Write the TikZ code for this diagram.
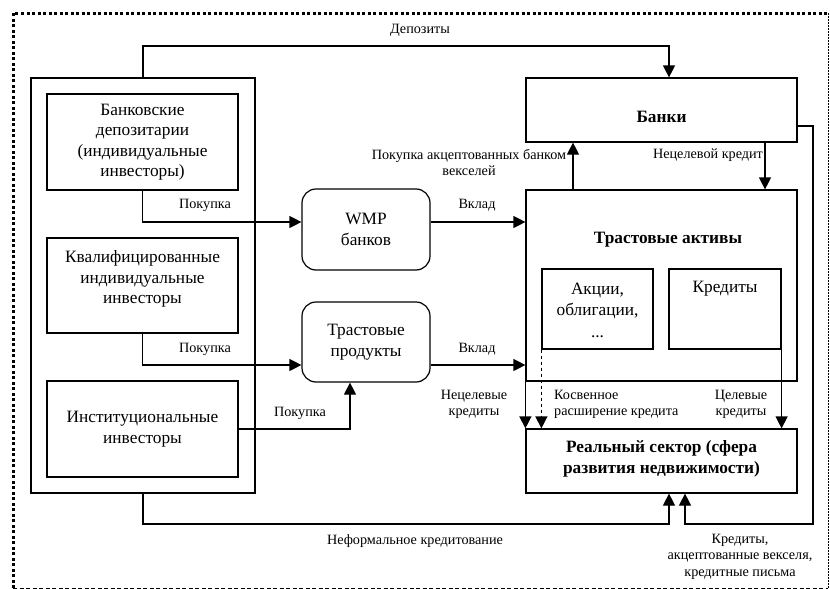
\documentclass[tikz,border=0pt]{standalone}
\usepackage{fontspec}
\setmainfont{Liberation Serif}
\usetikzlibrary{arrows.meta,calc}
\begin{document}
\begin{tikzpicture}[x=1pt,y=-1pt,
  box/.style={draw,line width=1.2pt,align=center,inner sep=0pt,font=\fontsize{17.3}{20.5}\selectfont},
  rbox/.style={box,rounded corners=14pt},
  btxt/.style={align=center,inner sep=0pt,font=\fontsize{17.3}{21}\selectfont\bfseries},
  ptxt/.style={align=center,inner sep=0pt,font=\fontsize{17.3}{21.5}\selectfont},
  lbl/.style={align=center,inner sep=0pt,font=\fontsize{14.2}{16.5}\selectfont},
  conn/.style={line width=1.2pt},
  arr/.style={conn,-{Triangle[length=12pt,width=12pt]}},
]
\useasboundingbox (0,0) rectangle (830,589);
% frame
\draw[line width=3pt,dash pattern=on 3pt off 2.5pt] (13,588) -- (13,13) -- (828,13);
\draw[line width=1pt,dash pattern=on 1.5pt off 1.5pt] (828,13) -- (828,588);
\draw[line width=1pt,dash pattern=on 4pt off 2.5pt] (13,588) -- (828,588);

% investors container
\node[box,minimum width=224,minimum height=415] (inv) at (143,285.5) {};
\node[box,minimum width=191,minimum height=96] (b1) at (142.5,142) {Банковские\\депозитарии\\(индивидуальные\\инвесторы)};
\node[box,minimum width=191,minimum height=95,text depth=17pt] (b2) at (142.5,285.5) {Квалифицированные\\индивидуальные\\инвесторы};
\node[box,minimum width=191,minimum height=96] (b3) at (142.5,429) {Институциональные\\инвесторы};

\node[rbox,minimum width=128,minimum height=81] (wmp) at (366,229.5) {WMP\\банков};
\node[rbox,minimum width=128,minimum height=80] (tp) at (366,342) {Трастовые\\продукты};

\node[box,minimum width=271,minimum height=64] (banks) at (661.5,110) {};
\node[btxt] (bankst) at (661.5,117) {Банки};
\node[box,minimum width=271,minimum height=191] (ta) at (661.5,285.5) {};
\node[btxt] (tat) at (668,240) {Трастовые активы};
\node[box,minimum width=111,minimum height=80] (akc) at (597.5,309) {};
\node[ptxt] (akct) at (597.5,310) {Акции,\\облигации,\\...};
\node[box,minimum width=112,minimum height=80] (kred) at (725,309) {};
\node[ptxt] (kredt) at (725,289) {Кредиты};
\node[box,minimum width=271,minimum height=64] (real) at (661.5,461) {};
\node[btxt] (realt) at (661.5,458.5) {Реальный сектор (сфера\\развития недвижимости)};

% connectors
\coordinate (dep) at (669,46);
\draw[arr] (inv.north) |- (dep) -- (dep |- banks.north);
\node[lbl] (depl) at (420,30) {Депозиты};

\draw[arr] (b1.south) |- ([yshift=7.5pt]wmp.west);
\node[lbl] (p1) at (205,205) {Покупка};
\draw[arr] ([yshift=7.5pt]wmp.east) -- ([yshift=7.5pt]wmp.east -| ta.west);
\node[lbl] (v1) at (477,205) {Вклад};

\draw[arr] (b2.south) |- ([yshift=-23pt]tp.west);
\node[lbl] (p2) at (205,349) {Покупка};
\draw[arr] ([yshift=-23pt]tp.east) -- ([yshift=-23pt]tp.east -| ta.west);
\node[lbl] (v2) at (477,349) {Вклад};

\draw[arr] (b3.east) -| ([xshift=-16pt]tp.south);
\node[lbl] (p3) at (300,413) {Покупка};

\draw[arr] ([xshift=-88.5pt]ta.north) -- ([xshift=-88.5pt]banks.south);
\node[lbl] (pb) at (469,162.5) {Покупка акцептованных банком\\векселей};
\draw[arr] ([xshift=103.5pt]banks.south) -- ([xshift=103.5pt]ta.north);
\node[lbl] (nk) at (708,155) {Нецелевой кредит};

\coordinate (rr) at (813,524);
\draw[arr] ([yshift=-16pt]banks.east) -| (rr) -| ([xshift=23.5pt]real.south);
\node[lbl] (kl) at (740,556.5) {Кредиты,\\акцептованные векселя,\\кредитные письма};

\coordinate (ll) at (143,524);
\draw[arr] (inv.south) -- (ll) -| ([xshift=7.5pt]real.south);
\node[lbl] (nfk) at (415,541) {Неформальное кредитование};

\draw[arr] (ta.south west) -- (real.north west);
\node[lbl] (nkr) at (474,404.5) {Нецелевые\\кредиты};
\draw[arr,dashed] (akc.south west) -- (akc.south west |- real.north);
\node[lbl,align=left,anchor=west] (kos) at (554,404.5) {Косвенное\\расширение кредита};
\draw[arr] (kred.south east) -- (kred.south east |- real.north);
\node[lbl] (tsk) at (741,404.5) {Целевые\\кредиты};
\end{tikzpicture}
\end{document}
